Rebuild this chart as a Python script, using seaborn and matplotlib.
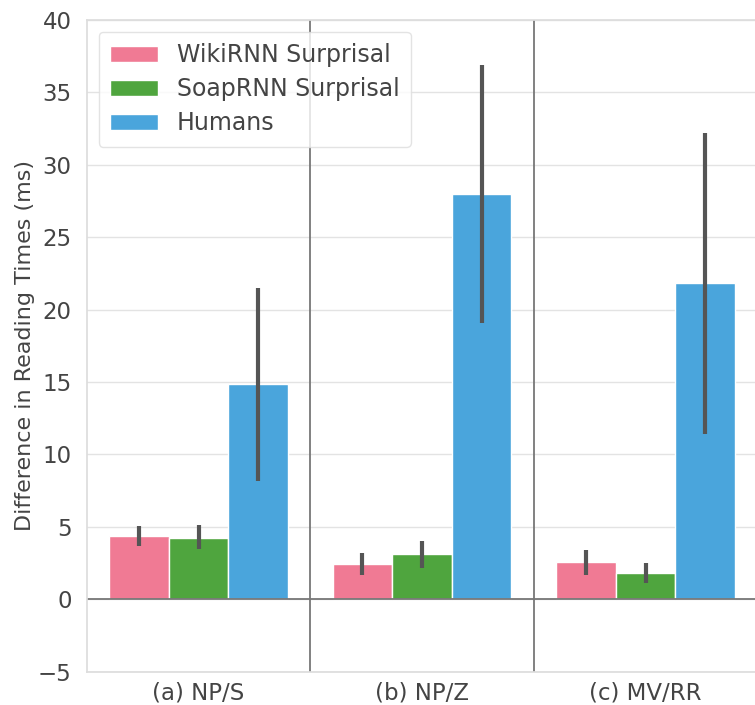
import matplotlib
matplotlib.use("Agg")
import matplotlib.pyplot as plt
import seaborn as sns
import pandas as pd

categories = ["(a) NP/S", "(b) NP/Z", "(c) MV/RR"]
series = ["WikiRNN Surprisal", "SoapRNN Surprisal", "Humans"]
values = {
    "WikiRNN Surprisal": [4.4, 2.45, 2.6],
    "SoapRNN Surprisal": [4.25, 3.1, 1.8],
    "Humans": [14.85, 28.0, 21.8],
}
err_low = {
    "WikiRNN Surprisal": [3.7, 1.7, 1.7],
    "SoapRNN Surprisal": [3.5, 2.2, 1.1],
    "Humans": [8.2, 19.1, 11.4],
}
err_high = {
    "WikiRNN Surprisal": [5.05, 3.2, 3.4],
    "SoapRNN Surprisal": [5.1, 4.0, 2.5],
    "Humans": [21.5, 36.9, 32.2],
}
colors = ["#f07a94", "#4fa53e", "#4aa5dc"]

rows = []
for s in series:
    for c, v in zip(categories, values[s]):
        rows.append({"cond": c, "model": s, "diff": v})
df = pd.DataFrame(rows)

sns.set_theme(style="whitegrid")
plt.rcParams["font.family"] = ["DejaVu Sans"]
text_color = "#444444"

fig = plt.figure(figsize=(7.55, 7.05), dpi=100)
ax = fig.add_axes([0.115, 0.047, 0.888, 0.925])

sns.barplot(data=df, x="cond", y="diff", hue="model", hue_order=series,
            order=categories, palette=colors, errorbar=None, width=0.8,
            saturation=1, edgecolor="white", linewidth=1, ax=ax)

for cont, s in zip(ax.containers, series):
    xs = [p.get_x() + p.get_width() / 2 for p in cont.patches]
    ax.vlines(xs, err_low[s], err_high[s], color="#555555", lw=3, zorder=5)

ax.axhline(0, color="#777777", lw=1.3, zorder=1)
for xv in [0.5, 1.5]:
    ax.axvline(xv, color="#777777", lw=1.3, zorder=1)

ax.set_xlim(-0.5, 2.5)
ax.set_ylim(-5, 40)
ax.set_yticks(range(-5, 41, 5))
ax.xaxis.grid(False)
ax.yaxis.grid(True, color="#e3e3e3", lw=1)
ax.set_xlabel("")
ax.set_ylabel("Difference in Reading Times (ms)", fontsize=16, color=text_color, labelpad=2)
ax.tick_params(axis="y", labelsize=16.5, colors=text_color, pad=5)
ax.tick_params(axis="x", labelsize=16.5, colors=text_color, pad=1)
for sp in ax.spines.values():
    sp.set_color("#dddddd")

leg = ax.legend(loc="upper left", fontsize=17, frameon=True,
                handlelength=2.0, handleheight=0.7, borderpad=0.5,
                labelspacing=0.42, bbox_to_anchor=(0.0, 1.0))
for t in leg.get_texts():
    t.set_color(text_color)
leg.get_frame().set_edgecolor("#dddddd")

fig.savefig("out.png", dpi=100)
